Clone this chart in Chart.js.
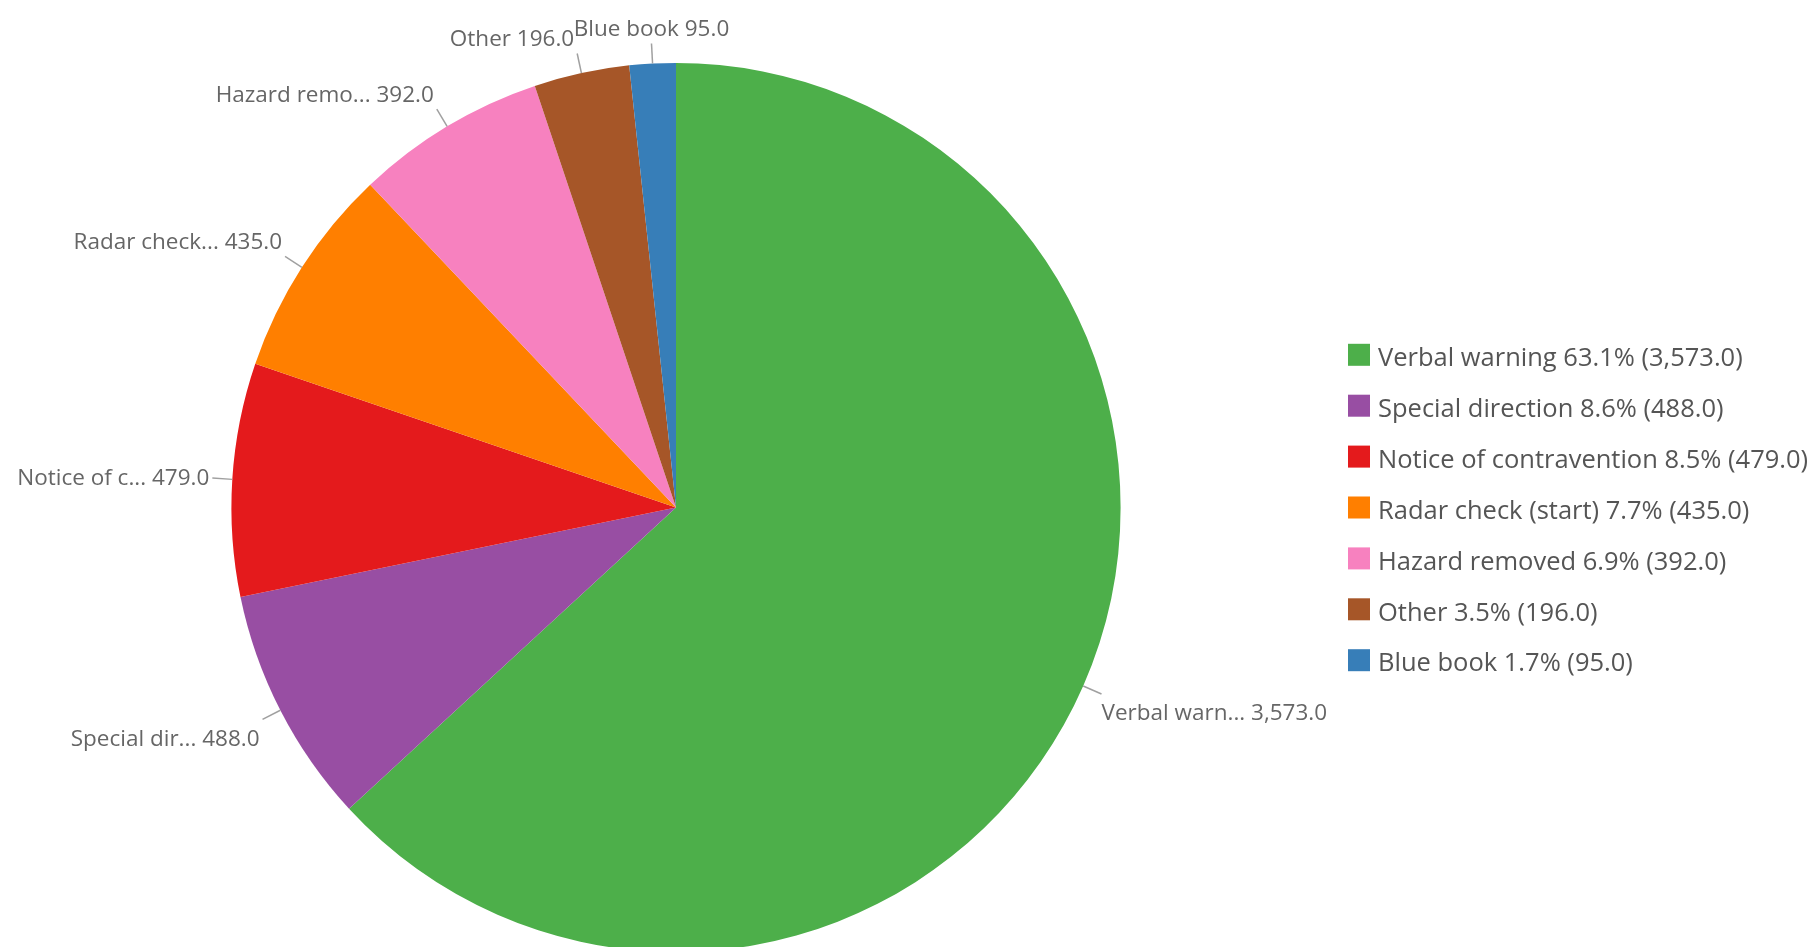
<!DOCTYPE html>
<html>
<head>
<meta charset="utf-8">
<script src="https://cdn.jsdelivr.net/npm/chart.js@4"></script>
<style>
  html, body { margin: 0; padding: 0; background: #fff; overflow: hidden; }
  #wrap { width: 1820px; height: 947px; position: relative; }
</style>
</head>
<body>
<div id="wrap"><canvas id="myChart"></canvas></div>
<script>
const labels = ["Verbal warning", "Special direction", "Notice of contravention", "Radar check (start)", "Hazard removed", "Other", "Blue book"]
const shortLabels = ["Verbal warn...", "Special dir...", "Notice of c...", "Radar check...", "Hazard remo...", "Other", "Blue book"]
const values = [3573, 488, 479, 435, 392, 196, 95]
const colors = ["#4daf4a", "#984ea3", "#e41a1c", "#ff7f00", "#f781bf", "#a65628", "#377eb8"]

const fmt = v => v.toLocaleString("en-US", {minimumFractionDigits: 1, maximumFractionDigits: 1})
const total = values.reduce((a, b) => a + b, 0)

// outside labels with leader lines
const sliceLabels = {
    id: "sliceLabels",
    afterDatasetsDraw(chart) {
        const ctx = chart.ctx
        const arcs = chart.getDatasetMeta(0).data
        ctx.save()
        ctx.font = "22.5px 'Open Sans', sans-serif"
        ctx.textBaseline = "middle"
        arcs.forEach((arc, i) => {
            const mid = (arc.startAngle + arc.endAngle) / 2
            const dx = Math.cos(mid), dy = Math.sin(mid)
            const r = arc.outerRadius
            const x0 = arc.x + dx * r, y0 = arc.y + dy * r
            const x1 = arc.x + dx * (r + 20), y1 = arc.y + dy * (r + 20)
            ctx.strokeStyle = "#a0a0a0"
            ctx.lineWidth = 1.5
            ctx.beginPath()
            ctx.moveTo(x0, y0)
            ctx.lineTo(x1, y1)
            ctx.stroke()
            const text = shortLabels[i] + " " + fmt(values[i])
            let tx = x1, align
            if (Math.abs(dx) < 0.1) { align = "center" }
            else if (dx > 0) { align = "left" }
            else { align = "right"; tx = x1 - 3 }
            let ty = y1 + 3 + (Math.abs(dy) > 0.3 ? Math.sign(dy) * 17 : dy * 40)
            ctx.textAlign = align
            ctx.fillStyle = "#666666"
            ctx.fillText(text, tx, ty)
        })
        ctx.restore()
    }
}

// legend on the right
const sideLegend = {
    id: "sideLegend",
    afterDraw(chart) {
        const ctx = chart.ctx
        const step = 50.9
        const cy = (chart.chartArea.top + chart.chartArea.bottom) / 2
        const y0 = cy - step * (labels.length - 1) / 2
        ctx.save()
        ctx.font = "25.5px 'Open Sans', sans-serif"
        ctx.textBaseline = "middle"
        ctx.textAlign = "left"
        labels.forEach((lab, i) => {
            const y = y0 + i * step
            ctx.fillStyle = colors[i]
            ctx.fillRect(1348, y - 11, 22, 22)
            ctx.fillStyle = "#555555"
            const pct = (values[i] / total * 100).toFixed(1)
            ctx.fillText(lab + " " + pct + "% (" + fmt(values[i]) + ")", 1378, y + 4)
        })
        ctx.restore()
    }
}

new Chart("myChart", {
    type: "pie",
    data: {
        labels: labels,
        datasets: [{
            data: values,
            backgroundColor: colors,
            borderWidth: 0,
            clip: false
        }]
    },
    options: {
        responsive: true,
        maintainAspectRatio: false,
        animation: false,
        radius: 444.6,
        layout: {padding: {top: 68, bottom: 0, left: 231, right: 699}},
        plugins: {
            legend: {display: false},
            tooltip: {enabled: false}
        }
    },
    plugins: [sliceLabels, sideLegend]
})
</script>
</body>
</html>
